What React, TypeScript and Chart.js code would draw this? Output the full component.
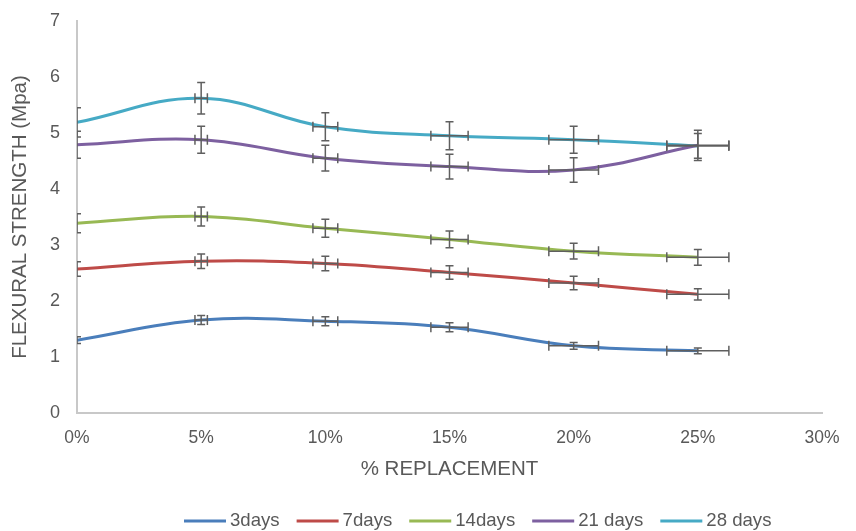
import React, { useEffect, useRef } from "react";
import { Chart, registerables } from "chart.js";

Chart.register(...registerables);

const replacement = [0, 5, 10, 15, 20, 25];
const xTicks = [0, 5, 10, 15, 20, 25, 30];

const seriesNames = ["3days", "7days", "14days", "21 days", "28 days"];
const days3 = [1.3, 1.66, 1.64, 1.53, 1.2, 1.11];
const days7 = [2.57, 2.71, 2.67, 2.51, 2.32, 2.12];
const days14 = [3.39, 3.51, 3.3, 3.1, 2.89, 2.78];
const days21 = [4.79, 4.88, 4.55, 4.4, 4.34, 4.78];
const days28 = [5.19, 5.62, 5.11, 4.95, 4.88, 4.77];

const yErr3 = [0.06, 0.08, 0.08, 0.08, 0.06, 0.05];
const yErr7 = [0.13, 0.13, 0.13, 0.12, 0.12, 0.1];
const yErr14 = [0.17, 0.17, 0.16, 0.15, 0.14, 0.14];
const yErr21 = [0.24, 0.24, 0.23, 0.22, 0.22, 0.27];
const yErr28 = [0.26, 0.28, 0.25, 0.25, 0.24, 0.22];

const xErr = [0, 0.25, 0.5, 0.75, 1.0, 1.25];

const colors = ["#4a7ebb", "#be4b48", "#98b954", "#7d60a0", "#46aac5"];

const allValues = [days3, days7, days14, days21, days28];
const allYErr = [yErr3, yErr7, yErr14, yErr21, yErr28];

const FONT = "'Liberation Sans', Arial, Helvetica, sans-serif";

const errorBarPlugin = {
  id: "errorBars",
  afterDatasetsDraw(chart: any) {
    const ctx = chart.ctx;
    const xs = chart.scales.x;
    const ys = chart.scales.y;
    const area = chart.chartArea;
    ctx.save();
    ctx.beginPath();
    ctx.rect(area.left, area.top - 20, area.right - area.left + 40, area.bottom - area.top + 40);
    ctx.clip();
    ctx.strokeStyle = "#5f5f5f";
    ctx.lineWidth = 1.5;
    allValues.forEach((vals, di) => {
      vals.forEach((v, i) => {
        const xv = replacement[i];
        const px = xs.getPixelForValue(xv);
        const py = ys.getPixelForValue(v);
        const e = allYErr[di][i];
        const yTop = ys.getPixelForValue(v + e);
        const yBot = ys.getPixelForValue(v - e);
        ctx.beginPath();
        ctx.moveTo(px, yTop);
        ctx.lineTo(px, yBot);
        ctx.moveTo(px - 4, yTop);
        ctx.lineTo(px + 4, yTop);
        ctx.moveTo(px - 4, yBot);
        ctx.lineTo(px + 4, yBot);
        ctx.stroke();
        const xe = xErr[i];
        if (xe > 0) {
          const xl = xs.getPixelForValue(xv - xe);
          const xr = xs.getPixelForValue(xv + xe);
          ctx.beginPath();
          ctx.moveTo(xl, py);
          ctx.lineTo(xr, py);
          ctx.moveTo(xl, py - 5);
          ctx.lineTo(xl, py + 5);
          ctx.moveTo(xr, py - 5);
          ctx.lineTo(xr, py + 5);
          ctx.stroke();
        }
      });
    });
    ctx.restore();
  },
};

const legendPlugin = {
  id: "customLegend",
  afterDraw(chart: any) {
    const ctx = chart.ctx;
    ctx.save();
    ctx.font = `18.6px ${FONT}`;
    ctx.textBaseline = "middle";
    ctx.textAlign = "left";
    let x = 184;
    const y = 521;
    chart.data.datasets.forEach((ds: any) => {
      ctx.strokeStyle = ds.borderColor;
      ctx.lineWidth = 3;
      ctx.beginPath();
      ctx.moveTo(x, y);
      ctx.lineTo(x + 42, y);
      ctx.stroke();
      x += 46;
      ctx.fillStyle = "#595959";
      ctx.fillText(ds.label, x, y);
      x += ctx.measureText(ds.label).width + 17;
    });
    ctx.restore();
  },
};

export default function App() {
  const ref = useRef<HTMLCanvasElement>(null);
  useEffect(() => {
    if (!ref.current) return;
    const chart = new Chart(ref.current, {
      type: "line",
      data: {
        datasets: seriesNames.map((name, di) => ({
          label: name,
          data: replacement.map((x, i) => ({ x, y: allValues[di][i] })),
          borderColor: colors[di],
          backgroundColor: colors[di],
          borderWidth: 3,
          pointRadius: 0,
          tension: 0.4,
          fill: false,
        })),
      },
      options: {
        animation: false,
        responsive: false,
        maintainAspectRatio: false,
        layout: { padding: { left: 0, right: 34, top: 21, bottom: 36.5 } },
        plugins: {
          tooltip: { enabled: false },
          legend: { display: false },
        },
        scales: {
          x: {
            type: "linear",
            min: 0,
            max: 30,
            afterBuildTicks: (s: any) => {
              s.ticks = xTicks.map((v) => ({ value: v }));
            },
            ticks: {
              color: "#595959",
              font: { family: FONT, size: 17.5 },
              padding: 15,
              callback: (v: any) => v + "%",
            },
            grid: { display: false, drawTicks: false },
            border: { display: true, color: "#c8c8c8", width: 2 },
            title: {
              display: true,
              text: "% REPLACEMENT",
              color: "#595959",
              font: { family: FONT, size: 20.5 },
              padding: { top: 0, bottom: 13 },
            },
            afterFit: (s: any) => {
              s.height = 81.5;
            },
          },
          y: {
            min: 0,
            max: 7,
            ticks: {
              stepSize: 1,
              color: "#595959",
              font: { family: FONT, size: 18 },
              padding: 17,
            },
            grid: { display: false, drawTicks: false },
            border: { display: true, color: "#c8c8c8", width: 2 },
            title: {
              display: true,
              text: "FLEXURAL STRENGTH (Mpa)",
              color: "#595959",
              font: { family: FONT, size: 20.5 },
              padding: { top: 8, bottom: 0 },
            },
            afterFit: (s: any) => {
              s.width = 77;
              s.paddingTop = 0;
              s.paddingBottom = 0;
            },
          },
        },
      },
      plugins: [errorBarPlugin, legendPlugin],
    });
    return () => chart.destroy();
  }, []);
  return (
    <div style={{ position: "fixed", left: 0, top: 0, width: 856, height: 531, background: "#fff" }}>
      <canvas ref={ref} width={856} height={531} style={{ width: 856, height: 531 }} />
    </div>
  );
}
